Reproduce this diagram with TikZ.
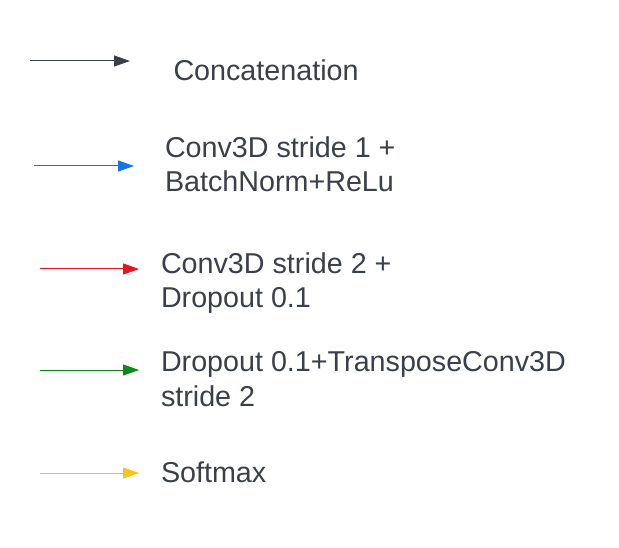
\documentclass[tikz,border=0pt]{standalone}
\usepackage{fontspec}
\setmainfont{Liberation Sans}
\usepackage{xcolor}
\usetikzlibrary{arrows.meta,positioning}

\definecolor{txtgray}{HTML}{3A3F4B}
\definecolor{concatc}{HTML}{3B3F4A}
\definecolor{convone}{HTML}{1273EB}
\definecolor{convtwo}{HTML}{E8141B}
\definecolor{tconv}{HTML}{0A8A17}
\definecolor{softc}{HTML}{F5C518}

\begin{document}
\begin{tikzpicture}[x=1pt,y=-1pt,
  legtext/.style={anchor=base west,inner sep=0pt,outer sep=0pt,align=left,
    text=txtgray,font=\fontsize{28.7}{34.5}\selectfont},
  legarrow/.style={line width=1pt,-{Triangle[length=16pt,width=11pt]}}]
\useasboundingbox (0,0) rectangle (619,548);

% legend arrows
\coordinate (c1s) at (30,61);  \coordinate (c1e) at (130,61);
\coordinate (c2s) at (34,166); \coordinate (c2e) at (134,166);
\coordinate (c3s) at (40,269); \coordinate (c3e) at (139,269);
\coordinate (c4s) at (40,370); \coordinate (c4e) at (139,370);
\coordinate (c5s) at (40,473); \coordinate (c5e) at (139,473);

\draw [legarrow,concatc] (c1s) -- (c1e);
\draw [legarrow,convone] (c2s) -- (c2e);
\draw [legarrow,convtwo] (c3s) -- (c3e);
\draw [legarrow,tconv] (c4s) -- (c4e);
\draw [legarrow,softc] (c5s) -- (c5e);

% legend texts (base = last line)
\node (concat) [legtext] at (173.5,81) {Concatenation};
\node (convs1) [legtext] at (165,192) {Conv3D stride 1 +\\BatchNorm+ReLu};
\node (convs2) [legtext] at (161,308) {Conv3D stride 2 +\\Dropout 0.1};
\node (tconvs) [legtext] at (161,406) {Dropout 0.1+TransposeConv3D\\stride 2};
\node (softm) [legtext] at (161,482) {Softmax};
\end{tikzpicture}
\end{document}
